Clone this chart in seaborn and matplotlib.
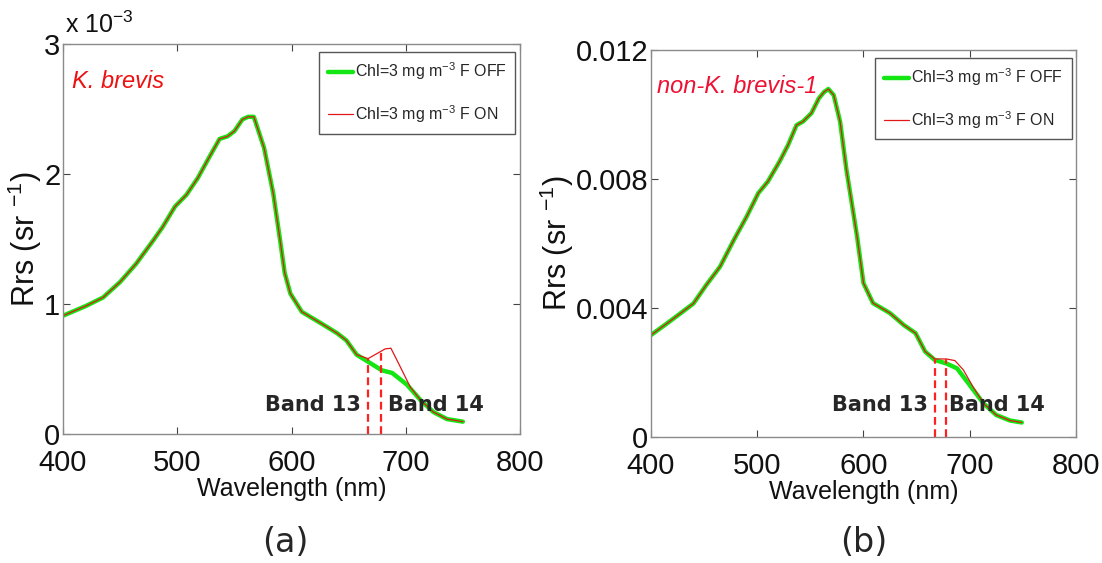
import numpy as np
import pandas as pd
import matplotlib
matplotlib.use("Agg")
import matplotlib.pyplot as plt
import seaborn as sns

# ---------------- data (Rrs in units of 1e-3 sr^-1) ----------------
wl_off_a = [400, 420, 435, 440, 450, 464, 479, 487, 498, 508, 518, 528, 537, 544, 550, 557,
            562, 567, 570, 576, 584, 590, 594, 599, 609, 628, 640, 648, 657, 667, 679, 688,
            701, 713, 724, 736, 750]
off_a = [0.91, 0.985, 1.05, 1.09, 1.17, 1.31, 1.49, 1.59, 1.75, 1.84, 1.97, 2.13, 2.27, 2.29,
         2.33, 2.42, 2.44, 2.44, 2.36, 2.20, 1.85, 1.49, 1.24, 1.08, 0.94, 0.84, 0.775, 0.72,
         0.61, 0.556, 0.49, 0.47, 0.38, 0.26, 0.17, 0.115, 0.095]
wl_on_a = [400, 420, 435, 440, 450, 464, 479, 487, 498, 508, 518, 528, 537, 544, 550, 557,
           562, 567, 570, 576, 584, 590, 594, 599, 609, 628, 640, 648, 657, 667, 675, 682,
           687, 695, 704, 713, 724, 736, 750]
on_a = [0.91, 0.985, 1.05, 1.09, 1.17, 1.31, 1.49, 1.59, 1.75, 1.84, 1.97, 2.13, 2.27, 2.29,
        2.33, 2.42, 2.44, 2.44, 2.36, 2.20, 1.85, 1.49, 1.24, 1.08, 0.94, 0.84, 0.775, 0.72,
        0.61, 0.58, 0.62, 0.655, 0.66, 0.52, 0.36, 0.26, 0.17, 0.115, 0.095]

wl_off_b = [400, 415, 430, 440, 452, 465, 478, 490, 501, 510, 521, 529, 537, 543, 551, 558,
            563, 567, 572, 578, 584, 589, 594, 600, 609, 625, 638, 649, 658, 667, 678, 688,
            700, 713, 725, 738, 749]
off_b = [3.16, 3.52, 3.89, 4.14, 4.71, 5.28, 6.11, 6.83, 7.56, 7.92, 8.54, 9.05, 9.67, 9.78,
         10.04, 10.50, 10.70, 10.79, 10.60, 9.78, 8.28, 7.25, 6.21, 4.77, 4.15, 3.84, 3.47,
         3.22, 2.65, 2.39, 2.28, 2.13, 1.61, 1.04, 0.68, 0.51, 0.45]
wl_on_b = [400, 415, 430, 440, 452, 465, 478, 490, 501, 510, 521, 529, 537, 543, 551, 558,
           563, 567, 572, 578, 584, 589, 594, 600, 609, 625, 638, 649, 658, 667, 678, 686,
           694, 703, 713, 725, 738, 749]
on_b = [3.16, 3.52, 3.89, 4.14, 4.71, 5.28, 6.11, 6.83, 7.56, 7.92, 8.54, 9.05, 9.67, 9.78,
        10.04, 10.50, 10.70, 10.79, 10.60, 9.78, 8.28, 7.25, 6.21, 4.77, 4.15, 3.84, 3.47,
        3.22, 2.65, 2.42, 2.42, 2.37, 2.08, 1.56, 1.04, 0.68, 0.51, 0.45]

band_wl = [667, 678]
band_top_a = [0.58, 0.64]
band_top_b = [2.42, 2.42]

x_ticks = [400, 500, 600, 700, 800]
y_ticks_a = [0, 1, 2, 3]
y_ticks_b = [0, 0.004, 0.008, 0.012]
y_ticklabels_b = ["0", "0.004", "0.008", "0.012"]

label_off = r"Chl=3 mg m$^{-3}$ F OFF"
label_on = r"Chl=3 mg m$^{-3}$ F ON"

# ---------------- style ----------------
sns.set_style("white")
plt.rcParams["font.family"] = ["Liberation Sans", "DejaVu Sans"]
plt.rcParams["mathtext.fontset"] = "custom"
plt.rcParams["mathtext.rm"] = "Liberation Sans"

GREEN = "#14e614"
RED = "#e01818"
DASH = "#ff2020"
SPINE = "#8a8a8a"

fig = plt.figure(figsize=(11.02, 5.63), dpi=100)
ax_a = fig.add_axes([0.0572, 0.2291, 0.4147, 0.6927])
ax_b = fig.add_axes([0.5907, 0.2238, 0.3857, 0.6874])


def draw(ax, wl_off, off, wl_on, on, scale, band_top):
    df_off = pd.DataFrame({"wl": wl_off, "rrs": np.array(off) * scale})
    df_on = pd.DataFrame({"wl": wl_on, "rrs": np.array(on) * scale})
    sns.lineplot(data=df_off, x="wl", y="rrs", ax=ax, color=GREEN, linewidth=3.2,
                 label=label_off, estimator=None, sort=False)
    sns.lineplot(data=df_on, x="wl", y="rrs", ax=ax, color=RED, linewidth=0.9,
                 label=label_on, estimator=None, sort=False)
    ax.vlines(band_wl, 0, np.array(band_top) * scale, colors=DASH, linestyles=(0, (3.5, 2.0)),
              linewidth=1.6)
    ax.set_xlim(400, 800)
    ax.set_xticks(x_ticks)
    ax.set_xticklabels([str(t) for t in x_ticks])
    for s in ax.spines.values():
        s.set_color(SPINE)
        s.set_linewidth(1.0)
        s.set_visible(True)
    ax.tick_params(direction="in", length=5, width=0.8, color="#444444",
                   top=True, right=True, bottom=True, left=True, labelsize=21,
                   labelcolor="#111111")
    ax.tick_params(axis="x", pad=11)
    ax.tick_params(axis="y", pad=2)
    ax.set_xlabel("Wavelength (nm)", fontsize=18, labelpad=0, color="#111111")
    ax.set_ylabel(r"Rrs (sr $^{-1}$)", fontsize=22, labelpad=0, color="#111111")
    leg = ax.legend(loc="upper right", bbox_to_anchor=(0.99, 0.98), fontsize=11.5,
                    handlelength=1.6, handletextpad=0.1, labelspacing=1.3,
                    borderpad=0.55, fancybox=False, framealpha=1, borderaxespad=0)
    leg.get_frame().set_edgecolor("#555555")
    leg.get_frame().set_linewidth(1.0)


draw(ax_a, wl_off_a, off_a, wl_on_a, on_a, 1.0, band_top_a)
ax_a.set_ylim(0, 3)
ax_a.set_yticks(y_ticks_a)
ax_a.set_yticklabels([str(t) for t in y_ticks_a])
ax_a.text(0.005, 1.015, r"x 10$^{-3}$", transform=ax_a.transAxes, fontsize=18,
          va="bottom", ha="left", color="#111111")
ax_a.text(0.02, 0.905, "K. brevis", transform=ax_a.transAxes, fontsize=17,
          style="italic", color="#ee1111", va="center", ha="left")
ax_a.text(661, 0.22, "Band 13", fontsize=15, fontweight="bold", family="DejaVu Sans",
          ha="right", va="center")
ax_a.text(684, 0.22, "Band 14", fontsize=15, fontweight="bold", family="DejaVu Sans",
          ha="left", va="center")

draw(ax_b, wl_off_b, off_b, wl_on_b, on_b, 1e-3, band_top_b)
ax_b.set_ylim(0, 0.012)
ax_b.set_yticks(y_ticks_b)
ax_b.set_yticklabels(y_ticklabels_b)
ax_b.text(0.015, 0.905, "non-K. brevis-1", transform=ax_b.transAxes, fontsize=17,
          style="italic", color="#ee1133", va="center", ha="left")
ax_b.text(661, 0.99e-3, "Band 13", fontsize=15, fontweight="bold", family="DejaVu Sans",
          ha="right", va="center")
ax_b.text(680.5, 0.99e-3, "Band 14", fontsize=15, fontweight="bold", family="DejaVu Sans",
          ha="left", va="center")

fig.text(285 / 1102, 1 - 543 / 563, "(a)", fontsize=24, ha="center", va="center",
         family="DejaVu Sans")
fig.text(864 / 1102, 1 - 543 / 563, "(b)", fontsize=24, ha="center", va="center",
         family="DejaVu Sans")

fig.savefig("out.png", dpi=100, facecolor="white")
